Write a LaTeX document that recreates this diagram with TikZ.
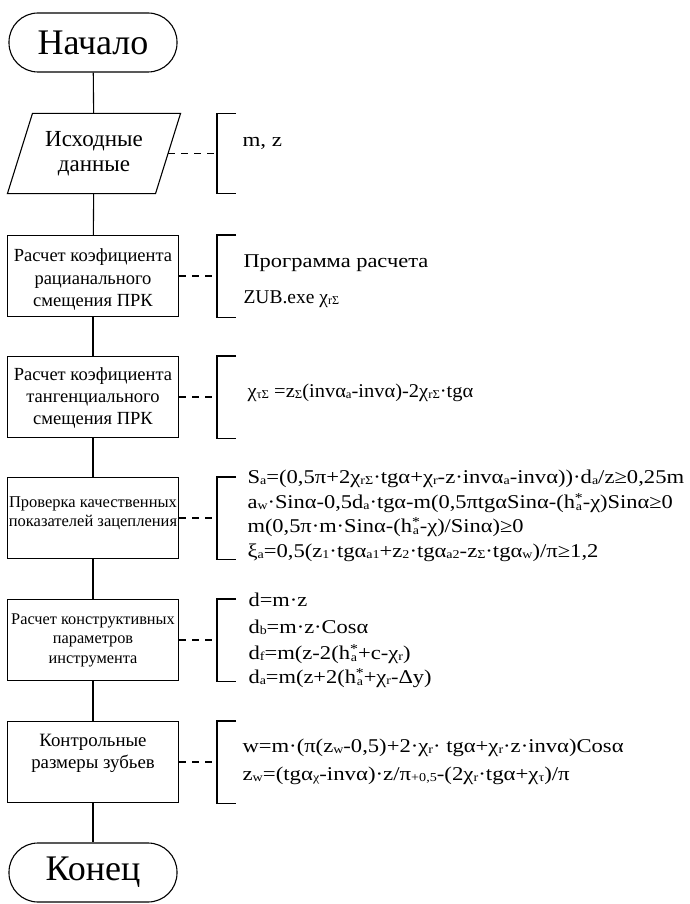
\documentclass[tikz,border=0pt]{standalone}
\usepackage{fontspec}
\setmainfont{Liberation Serif}
\usepackage{graphicx}
\usetikzlibrary{shapes.geometric}
\newcommand\sbx[1]{\raisebox{-0.2ex}{\scalebox{0.62}{#1}}}
\newcommand\hstar{h\raisebox{-0.3ex}{\shortstack{\scalebox{0.7}{*}\\\scalebox{0.62}{a}}}}
\newcommand\wx[2]{\scalebox{#1}[1]{#2}}
\begin{document}
\begin{tikzpicture}[x=1pt,y=-1pt,
  line width=1.1pt,
  term/.style={draw, rounded corners=29pt, minimum width=168pt, minimum height=59pt, inner sep=0pt, font=\fontsize{36}{36}\selectfont},
  iobox/.style={rectangle, minimum width=147pt, minimum height=79pt, inner sep=0pt, align=center, font=\fontsize{23}{25}\selectfont},
  proc/.style={draw, rectangle, minimum width=171pt, minimum height=81pt, inner sep=0pt},
  boxlbl/.style={align=center, inner sep=0pt},
  link/.style={line width=1.1pt},
  dashlink/.style={line width=1.1pt, dash pattern=on 7pt off 6pt},
  brk/.style={line width=1.1pt},
  ftxt/.style={anchor=base west, inner sep=0pt, font=\fontsize{19.5}{22}\selectfont}
]
\useasboundingbox (0,0) rectangle (690,904);

\node[term] (start) at (93,42.5) {Начало};
\node[iobox] (in) at (94,153.5) {Исходные\\данные};
\draw ([xshift=12.5pt]in.north west) -- ([xshift=12.5pt]in.north east) -- ([xshift=-12.5pt]in.south east) -- ([xshift=-12.5pt]in.south west) -- cycle;

\node[proc, label={[boxlbl, name=t1, yshift=-4pt, font=\fontsize{18.5}{22.5}\selectfont]center:{Расчет коэфициента\\рацианального\\смещения ПРК}}] (b1) at (93,276) {};
\node[proc, label={[boxlbl, name=t2, yshift=-1pt, font=\fontsize{18.5}{22}\selectfont]center:{Расчет коэфициента\\тангенциального\\смещения ПРК}}] (b2) at (93,397) {};
\node[proc, label={[boxlbl, name=t3, yshift=5pt, font=\fontsize{16.5}{19}\selectfont]center:{Проверка качественных\\показателей зацепления}}] (b3) at (93,518) {};
\node[proc, label={[boxlbl, name=t4, yshift=0pt, font=\fontsize{16.3}{19.5}\selectfont]center:{Расчет конструктивных\\параметров\\инструмента}}] (b4) at (93,640) {};
\node[proc, label={[boxlbl, name=t5, yshift=9pt, font=\fontsize{18.8}{22}\selectfont]center:{Контрольные\\размеры зубьев}}] (b5) at (93,762) {};
\node[term] (end) at (93,872.5) {Конец};

\draw[link] (start) -- (in);
\draw[link] (in) -- (b1);
\draw[link] (b1) -- (b2);
\draw[link] (b2) -- (b3);
\draw[link] (b3) -- (b4);
\draw[link] (b4) -- (b5);
\draw[link] (b5) -- (end);

% brackets
\coordinate (k0) at (217,153.5);
\coordinate (k1) at (217,276);
\coordinate (k2) at (217,397);
\coordinate (k3) at (217,518);
\coordinate (k4) at (217,640);
\coordinate (k5) at (217,762);

\draw[dashlink] (in.east) -- (k0);
\draw[dashlink] (b1.east) -- (k1);
\draw[dashlink] (b2.east) -- (k2);
\draw[dashlink] (b3.east) -- (k3);
\draw[dashlink] (b4.east) -- (k4);
\draw[dashlink] (b5.east) -- (k5);

\draw[brk] (k0 |- in.north) ++(19,0) -- (k0 |- in.north) -- (k0 |- in.south) -- ++(19,0);
\draw[brk] (k1 |- b1.north) ++(19,0) -- (k1 |- b1.north) -- (k1 |- b1.south) -- ++(19,0);
\draw[brk] (k2 |- b2.north) ++(19,0) -- (k2 |- b2.north) -- (k2 |- b2.south) -- ++(19,0);
\draw[brk] (k3 |- b3.north) ++(19,0) -- (k3 |- b3.north) -- (k3 |- b3.south) -- ++(19,0);
\draw[brk] (k4 |- b4.north) ++(19,0) -- (k4 |- b4.north) -- (k4 |- b4.south) -- ++(19,0);
\draw[brk] (k5 |- b5.north) ++(19,0) -- (k5 |- b5.north) -- (k5 |- b5.south) -- ++(19,0);

% texts
\node[ftxt] (r0) at (242,147) {\wx{1.18}{m, z}};
\node[ftxt] (r1a) at (243,267) {\wx{1.15}{Программа расчета}};
\node[ftxt] (r1b) at (243,303) {ZUB.exe χ\sbx{rΣ}};
\node[ftxt] (r2) at (247,397) {\wx{1.05}{χ\sbx{τΣ} =z\sbx{Σ}(invα\sbx{a}-invα)-2χ\sbx{rΣ}·tgα}};
\node[ftxt] (r3a) at (247,483) {\wx{1.16}{S\sbx{a}=(0,5π+2χ\sbx{rΣ}·tgα+χ\sbx{r}-z·invα\sbx{a}-invα))·d\sbx{a}/z≥0,25m}};
\node[ftxt] (r3b) at (247,508) {\wx{1.15}{a\sbx{w}·Sinα-0,5d\sbx{a}·tgα-m(0,5πtgαSinα-(\hstar-χ)Sinα≥0}};
\node[ftxt] (r3c) at (247,532) {\wx{1.15}{m(0,5π·m·Sinα-(\hstar-χ)/Sinα)≥0}};
\node[ftxt] (r3d) at (247,557) {\wx{1.16}{ξ\sbx{a}=0,5(z\sbx{1}·tgα\sbx{a1}+z\sbx{2}·tgα\sbx{a2}-z\sbx{Σ}·tgα\sbx{w})/π≥1,2}};
\node[ftxt] (r4a) at (248,606) {\wx{1.15}{d=m·z}};
\node[ftxt] (r4b) at (248,633) {\wx{1.15}{d\sbx{b}=m·z·Cosα}};
\node[ftxt] (r4c) at (248,659) {\wx{1.16}{d\sbx{f}=m(z-2(\hstar+c-χ\sbx{r})}};
\node[ftxt] (r4d) at (248,683) {\wx{1.15}{d\sbx{a}=m(z+2(\hstar+χ\sbx{r}-Δy)}};
\node[ftxt] (r5a) at (242,752) {\wx{1.16}{w=m·(π(z\sbx{w}-0,5)+2·χ\sbx{r}· tgα+χ\sbx{r}·z·invα)Cosα}};
\node[ftxt] (r5b) at (242,780) {\wx{1.17}{z\sbx{w}=(tgα\sbx{χ}-invα)·z/π\sbx{+0,5}-(2χ\sbx{r}·tgα+χ\sbx{τ})/π}};
\end{tikzpicture}
\end{document}
